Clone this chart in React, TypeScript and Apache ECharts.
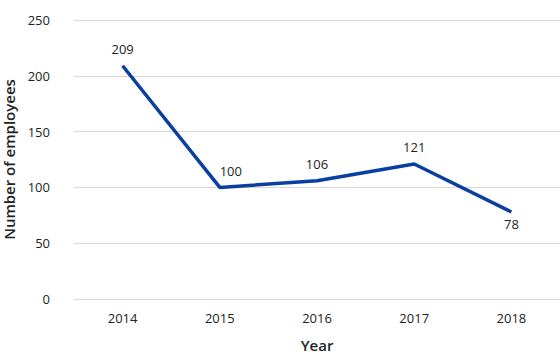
import React, { useEffect, useRef } from "react";
import * as echarts from "echarts";

const years = ["2014", "2015", "2016", "2017", "2018"];
const employees = [209, 100, 106, 121, 78];

export default function App() {
  const ref = useRef<HTMLDivElement>(null);
  useEffect(() => {
    if (!ref.current) return;
    const chart = echarts.init(ref.current, null, { renderer: "svg" });
    const font = "'Open Sans', sans-serif";
    const labelFor = (i: number) => {
      if (i === employees.length - 1) return { position: "bottom", distance: 6 };
      if (i === 1) return { position: "top", distance: 10, offset: [11, 0] };
      return { position: "top", distance: 10 };
    };
    chart.setOption({
      animation: false,
      grid: { left: 74, right: 0, top: 20, bottom: 56, outerBoundsMode: "none" },
      xAxis: {
        type: "category",
        data: years,
        boundaryGap: true,
        axisLine: { show: false },
        axisTick: { show: false },
        axisLabel: { color: "#222", fontSize: 13, fontFamily: font, margin: 12 },
        name: "Year",
        nameLocation: "middle",
        nameGap: 38,
        nameTextStyle: { color: "#222", fontSize: 15, fontWeight: 600, fontFamily: font },
      },
      yAxis: {
        type: "value",
        min: 0,
        max: 250,
        interval: 50,
        axisLine: { show: false },
        axisTick: { show: false },
        splitLine: { lineStyle: { color: "#d6d6d6", width: 1 } },
        axisLabel: { color: "#222", fontSize: 13, fontFamily: font, margin: 24 },
        name: "Number of employees",
        nameLocation: "middle",
        nameGap: 56,
        nameRotate: 90,
        nameTextStyle: { color: "#222", fontSize: 15, fontWeight: 600, fontFamily: font },
      },
      series: [
        {
          type: "line",
          data: employees.map((v, i) => ({
            value: v,
            label: labelFor(i),
          })),
          symbol: "circle",
          showSymbol: true,
          symbolSize: 0.01,
          itemStyle: { color: "#0a3fa0" },
          lineStyle: { color: "#0a3fa0", width: 3.5 },
          label: {
            show: true,
            color: "#222",
            fontSize: 13,
            fontFamily: font,
            distance: 10,
            opacity: 1,
          },
        },
      ],
    });
    return () => chart.dispose();
  }, []);
  return (
    <div
      ref={ref}
      style={{ position: "absolute", left: 0, top: 0, width: 560, height: 355 }}
    />
  );
}
